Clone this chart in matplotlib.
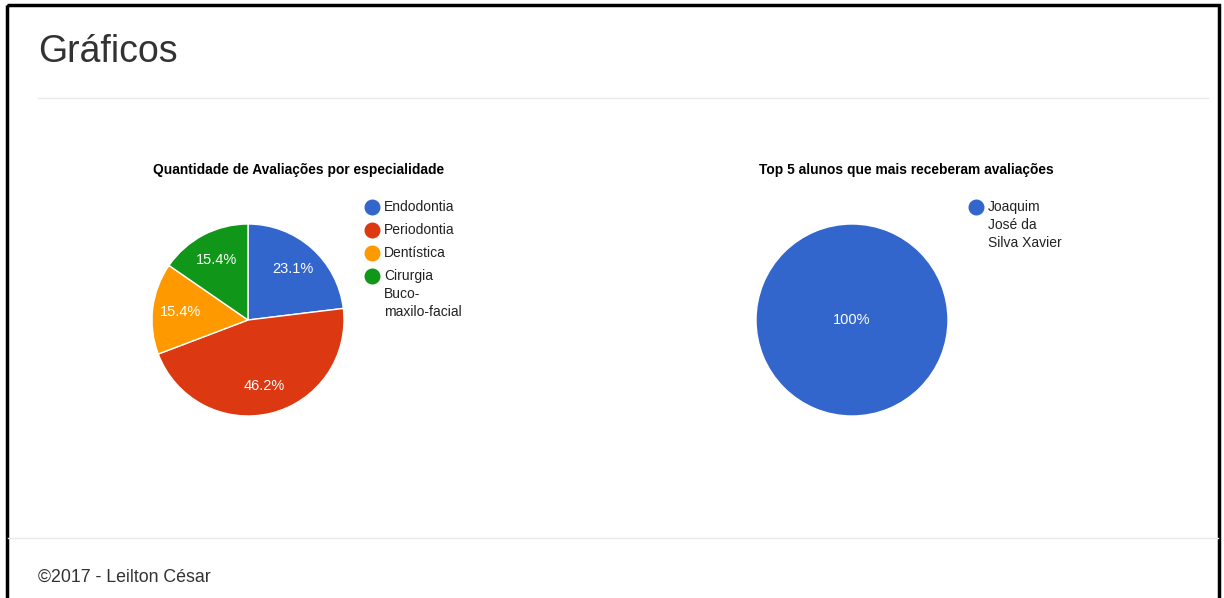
# -*- coding: utf-8 -*-
import matplotlib.pyplot as plt
from matplotlib.patches import Rectangle

plt.rcParams['font.family'] = ['Liberation Sans', 'DejaVu Sans']

# Datos
especialidades = ["Endodontia", "Periodontia", "Dentística", "Cirurgia Buco-maxilo-facial"]
legend_esp = ["Endodontia", "Periodontia", "Dentística", "Cirurgia\nBuco-\nmaxilo-facial"]
avaliacoes_esp = [3, 6, 2, 2]

alunos = ["Joaquim José da Silva Xavier"]
legend_alunos = ["Joaquim\nJosé da\nSilva Xavier"]
avaliacoes_alunos = [1]

colores = ["#3366cc", "#dc3912", "#ff9900", "#109618"]

W, H = 1224, 598
fig = plt.figure(figsize=(W / 100, H / 100), dpi=100)
fig.patch.set_facecolor("white")

# Capa en pixeles para textos y lineas
bg = fig.add_axes([0, 0, 1, 1])
bg.set_xlim(0, W)
bg.set_ylim(H, 0)
bg.axis("off")

# Marco de la pagina
bg.add_patch(Rectangle((6.5, 5), 1212, 600, fill=False, edgecolor="black", linewidth=2.5))
bg.plot([38, 1208], [98, 98], color="#e8e8e8", linewidth=1)
bg.plot([8, 1218], [538, 538], color="#e8e8e8", linewidth=1)

bg.text(38, 52, "Gráficos", fontsize=27, color="#333333", va="center", ha="left")
bg.text(38, 577, "©2017 - Leilton César", fontsize=12.8, color="#333333", va="center", ha="left")

bg.text(153, 170, "Quantidade de Avaliações por especialidade", fontsize=9.9,
        fontweight="bold", color="black", va="center", ha="left")
bg.text(759, 170, "Top 5 alunos que mais receberam avaliações", fontsize=9.9,
        fontweight="bold", color="black", va="center", ha="left")


def pie_axes(cx, cy, r):
    ax = fig.add_axes([(cx - r) / W, 1 - (cy + r) / H, 2 * r / W, 2 * r / H])
    return ax


def draw_legend(x, y0, step, labels, cols):
    y = y0
    for lab, col in zip(labels, cols):
        bg.plot(x, y, "o", markersize=10.5, color=col)
        for i, line in enumerate(lab.split("\n")):
            bg.text(x + 12, y + i * 18, line, fontsize=10, color="#222222",
                    va="center", ha="left")
        y += step


# Grafico 1
ax1 = pie_axes(248, 320, 96)
w1, t1, a1 = ax1.pie(avaliacoes_esp, colors=colores, startangle=90, counterclock=False,
                     autopct="%.1f%%", pctdistance=0.71, radius=1,
                     wedgeprops=dict(edgecolor="white", linewidth=1))
for a in a1:
    a.set_color("white")
    a.set_fontsize(10.5)
ax1.set_xlim(-1, 1)
ax1.set_ylim(-1, 1)
draw_legend(372, 207, 23, legend_esp, colores)

# Grafico 2
ax2 = pie_axes(852, 320, 96)
w2, t2, a2 = ax2.pie(avaliacoes_alunos, colors=colores[:1], startangle=90, counterclock=False,
                     autopct="%.0f%%", pctdistance=0, radius=1,
                     wedgeprops=dict(edgecolor="white", linewidth=1))
for a in a2:
    a.set_color("white")
    a.set_fontsize(10.5)
ax2.set_xlim(-1, 1)
ax2.set_ylim(-1, 1)
draw_legend(976, 207, 23, legend_alunos, colores[:1])

plt.savefig("out.png", dpi=100, facecolor="white")
